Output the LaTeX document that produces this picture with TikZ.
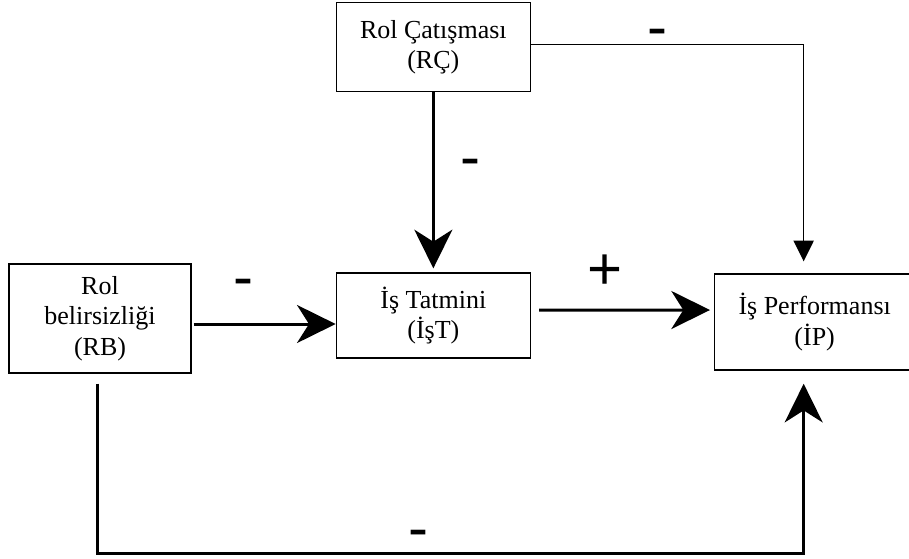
\documentclass[tikz,border=0pt]{standalone}
\usepackage{fontspec}
\setmainfont{Liberation Serif}
\newfontfamily\signfont{Liberation Sans}
\usetikzlibrary{arrows.meta, positioning}
\tikzset{
    block/.style={rectangle, draw, line width=1pt, align=center, font=\fontsize{19.5}{23}\selectfont},
    bigarrow/.style={line width=2.25pt, -{Stealth[length=29pt, width=28.5pt, inset=9pt]}},
    thinarrow/.style={line width=1.1pt, -{Triangle[length=15.5pt, width=15pt]}},
    sign/.style={font=\signfont\fontsize{45}{45}\selectfont, inner sep=0pt, anchor=base}
}

\begin{document}
\begin{tikzpicture}
            \useasboundingbox (0,0) rectangle (681.75pt,-418.5pt);
            \node[block, minimum width=136.5pt, minimum height=81.75pt] (rb) at (75pt,-238.9pt) {Rol\\belirsizliği\\(RB)};
            \node[block, minimum width=145.5pt, minimum height=63.75pt, right=108pt of rb, yshift=2.25pt] (ist) {İş Tatmini\\(İşT)};
            \node[block, minimum width=150pt, minimum height=72pt, right=137.25pt of ist, yshift=-4.9pt] (ip) {İş Performansı\\(İP)};
            \node[block, minimum width=145.5pt, minimum height=66.75pt, above=135pt of ist] (rc) {Rol Çatışması\\(RÇ)};

            \draw[thinarrow] ([yshift=1.9pt]rc.east) -| ([xshift=-8.25pt,yshift=9pt]ip.north);
            \draw[bigarrow] (rc.south) -- ([yshift=3pt]ist.north);
            \draw[bigarrow] ([xshift=1.5pt,yshift=-4.1pt]rb.east) -- ([yshift=-6.35pt]ist.west);
            \draw[bigarrow] ([xshift=6pt,yshift=4.15pt]ist.east) -- ([xshift=-3pt,yshift=9.05pt]ip.west);
            \draw[bigarrow] ([xshift=-2.25pt,yshift=-7.5pt]rb.south) -- ++(0,-127.5pt) -| ([xshift=-8.25pt,yshift=-9.75pt]ip.south);

            \node[sign] (rcip) at (492.75pt,-35.25pt) {-};
            \node[sign] (rcist) at (352.5pt,-132.75pt) {-};
            \node[sign] (rbist) at (182.25pt,-222.75pt) {-};
            \node[sign] (istip) at (453.75pt,-216.75pt) {+};
            \node[sign] (rbip) at (313.5pt,-411pt) {-};
\end{tikzpicture}
\end{document}
